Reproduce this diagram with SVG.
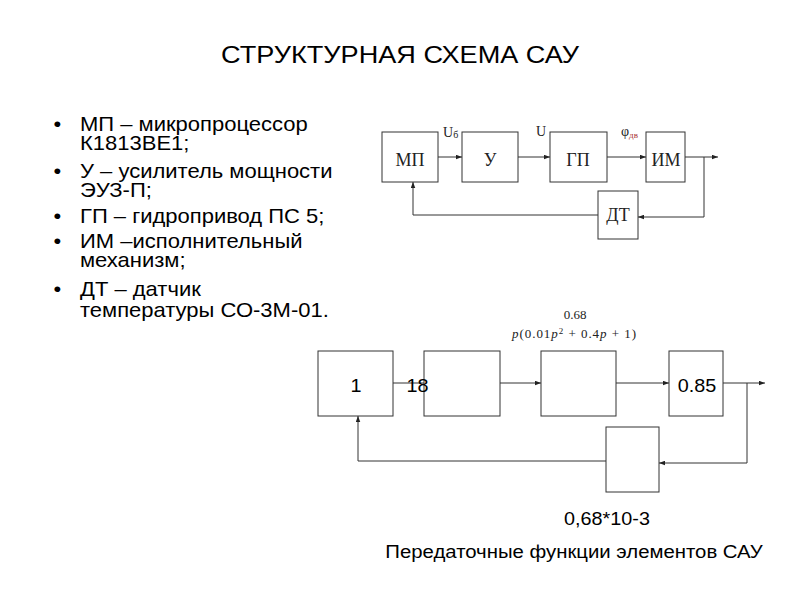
<svg xmlns="http://www.w3.org/2000/svg" width="800" height="600" viewBox="0 0 800 600">
<style>
.t{font-family:"Liberation Sans",Arial,sans-serif;fill:#000}
.s{font-family:"Liberation Serif","Times New Roman",serif;fill:#222}
.b{fill:#fff;stroke:#333;stroke-width:1}
.c{fill:none;stroke:#333;stroke-width:1}
</style>
<defs>
<marker id="a" viewBox="0 0 8 6" refX="8" refY="3" markerWidth="6" markerHeight="5" orient="auto" markerUnits="userSpaceOnUse"><path d="M0,0L8,3L0,6z" fill="#222"/></marker>
</defs>
<rect width="800" height="600" fill="#fff"/>
<text class="t" transform="translate(400,63) scale(1.13,1)" x="0" y="0" font-size="24" text-anchor="middle">СТРУКТУРНАЯ СХЕМА САУ</text>
<g id="list" class="t" font-size="20" transform="matrix(1.1,0,0,1,-8,0)">
<text x="56" y="131">•</text><text x="80" y="131">МП – микропроцессор<tspan x="80" y="150">К1813ВЕ1;</tspan></text>
<text x="56" y="178">•</text><text x="80" y="178">У – усилитель мощности<tspan x="80" y="197">ЭУЗ-П;</tspan></text>
<text x="56" y="223">•</text><text x="80" y="223">ГП – гидропривод ПС 5;</text>
<text x="56" y="248">•</text><text x="80" y="248">ИМ –исполнительный<tspan x="80" y="267">механизм;</tspan></text>
<text x="56" y="296">•</text><text x="80" y="296">ДТ – датчик<tspan x="80" y="317">температуры СО-3М-01.</tspan></text>
</g>
<g id="top-connectors">
<path class="c" d="M438,157H462" marker-end="url(#a)"/>
<path class="c" d="M518,157H550" marker-end="url(#a)"/>
<path class="c" d="M607,157H646" marker-end="url(#a)"/>
<path class="c" d="M685,157H718" marker-end="url(#a)"/>
<path class="c" d="M704,157V217H638" marker-end="url(#a)"/>
<path class="c" d="M598,215H413V182" marker-end="url(#a)"/>
</g>
<g id="mp"><rect class="b" x="382" y="132" width="56" height="50"/><text class="s" x="410" y="166" font-size="18" text-anchor="middle">МП</text></g>
<g id="u"><rect class="b" x="462" y="132" width="56" height="50"/><text class="s" x="490" y="166" font-size="18" text-anchor="middle">У</text></g>
<g id="gp"><rect class="b" x="550" y="132" width="57" height="50"/><text class="s" x="578" y="166" font-size="18" text-anchor="middle">ГП</text></g>
<g id="im"><rect class="b" x="646" y="132" width="39" height="50"/><text class="s" x="666" y="166" font-size="18" text-anchor="middle">ИМ</text></g>
<g id="dt"><rect class="b" x="598" y="191" width="40" height="48"/><text class="s" x="618" y="221" font-size="18" text-anchor="middle">ДТ</text></g>
<g id="top-labels" class="s" font-size="14">
<text x="443" y="137">U<tspan font-size="10" dy="1">б</tspan></text>
<text x="536" y="136">U</text>
<text x="621" y="136">φ<tspan font-size="9" dy="2" fill="#a33">дв</tspan></text>
</g>
<g id="bottom-connectors">
<path class="c" d="M393,383H424"/>
<path class="c" d="M500,383H541" marker-end="url(#a)"/>
<path class="c" d="M616,383H669" marker-end="url(#a)"/>
<path class="c" d="M723,383H765" marker-end="url(#a)"/>
<path class="c" d="M747,383V463H659" marker-end="url(#a)"/>
<path class="c" d="M606,461H358V416" marker-end="url(#a)"/>
</g>
<g id="k1"><rect class="b" x="318" y="351" width="75" height="65"/><text class="t" transform="translate(356,392) scale(1.1,1)" font-size="18" text-anchor="middle">1</text></g>
<g id="k2"><rect class="b" x="424" y="351" width="76" height="65"/></g>
<g id="k3"><rect class="b" x="541" y="351" width="75" height="65"/></g>
<g id="k4"><rect class="b" x="669" y="351" width="54" height="65"/><text class="t" transform="translate(697,392) scale(1.1,1)" font-size="18" text-anchor="middle">0.85</text></g>
<g id="k5"><rect class="b" x="606" y="427" width="53" height="65"/></g>
<text class="t" transform="translate(417.5,392) scale(1.1,1)" font-size="18" text-anchor="middle">18</text>
<g id="formula" class="s" font-size="13" fill="#555">
<text x="575" y="319" text-anchor="middle">0.68</text>
<text x="512" y="338" textLength="124" lengthAdjust="spacing"><tspan font-style="italic">p</tspan>(0.01<tspan font-style="italic">p</tspan><tspan font-size="9" dy="-4">2</tspan><tspan dy="4"> + 0.4</tspan><tspan font-style="italic">p</tspan> + 1)</text>
</g>
<text class="t" transform="translate(607,525) scale(1.1,1)" font-size="18" text-anchor="middle">0,68*10-3</text>
<text class="t" transform="translate(574,558) scale(1.1,1)" font-size="18.5" text-anchor="middle">Передаточные функции элементов САУ</text>
</svg>
